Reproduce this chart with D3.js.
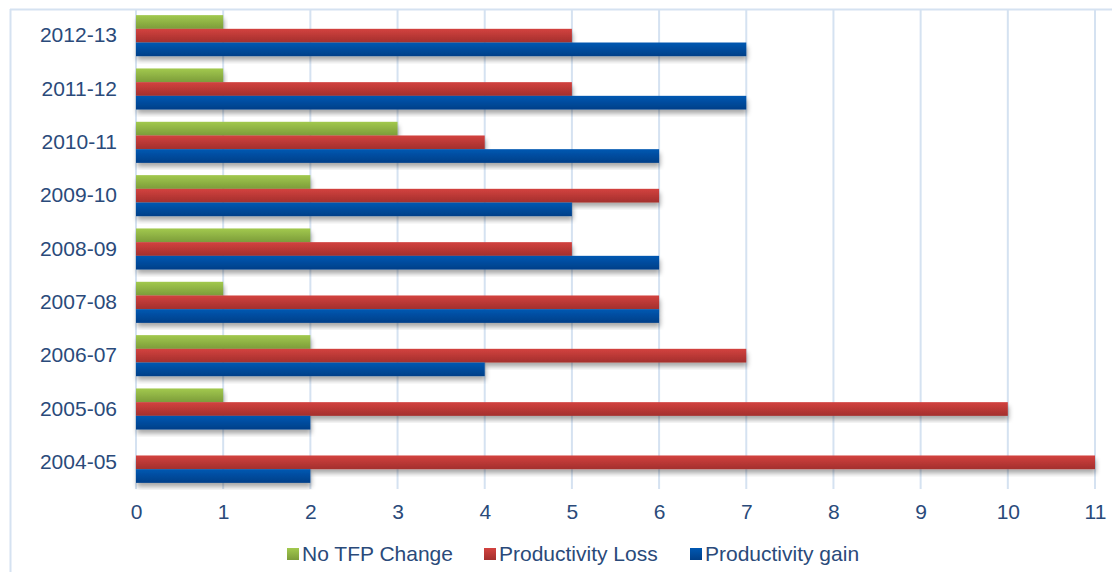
<!DOCTYPE html>
<html>
<head>
<meta charset="utf-8">
<script src="https://cdn.jsdelivr.net/npm/d3@7"></script>
<style>
  html, body { margin: 0; padding: 0; background: #fff; }
  svg { display: block; font-family: "Liberation Sans", Arial, sans-serif; }
</style>
</head>
<body>
<svg id="chart" width="1112" height="572"></svg>
<script>
// Years, listed top to bottom as drawn
const years = ["2012-13", "2011-12", "2010-11", "2009-10", "2008-09", "2007-08", "2006-07", "2005-06", "2004-05"];
const seriesNames = ["No TFP Change", "Productivity Loss", "Productivity gain"];
const noTfpChange = [1, 1, 3, 2, 2, 1, 2, 1, 0];
const productivityLoss = [5, 5, 4, 6, 5, 6, 7, 10, 11];
const productivityGain = [7, 7, 6, 5, 6, 6, 4, 2, 2];
const xTicks = [0, 1, 2, 3, 4, 5, 6, 7, 8, 9, 10, 11];

const seriesValues = [noTfpChange, productivityLoss, productivityGain];
const gradStops = [
  ["#a2c94e", "#7c9c3a"],
  ["#d3423f", "#a32f2d"],
  ["#0058b2", "#003f88"]
];
const textColor = "#2a4a7a";
const gridColor = "#d5e2f1";
const fontSize = 21;

const svg = d3.select("#chart");
const margin = { left: 136, right: 17, top: 9, bottom: 83 };
const W = 1112, H = 572;

const x = d3.scaleLinear().domain([0, 11]).range([margin.left, W - margin.right]);
const y = d3.scaleBand().domain(years).range([margin.top, H - margin.bottom]).paddingInner(0.23).paddingOuter(0.115);
const sub = d3.scaleBand().domain(d3.range(3)).range([0, y.bandwidth()]);

const defs = svg.append("defs");
gradStops.forEach((g, i) => {
  const lg = defs.append("linearGradient").attr("id", "g" + i)
    .attr("x1", 0).attr("y1", 0).attr("x2", 0).attr("y2", 1);
  lg.append("stop").attr("offset", "0%").attr("stop-color", g[0]);
  lg.append("stop").attr("offset", "100%").attr("stop-color", g[1]);
});
const f = defs.append("filter").attr("id", "shadow")
  .attr("x", "-5%").attr("y", "-30%").attr("width", "110%").attr("height", "180%");
f.append("feGaussianBlur").attr("in", "SourceAlpha").attr("stdDeviation", 2.5);
f.append("feOffset").attr("dx", 1).attr("dy", 4).attr("result", "off");
f.append("feComponentTransfer").append("feFuncA").attr("type", "linear").attr("slope", 0.35);
const fm = f.append("feMerge");
fm.append("feMergeNode");
fm.append("feMergeNode").attr("in", "SourceGraphic");

// Outer frame (top and left edges visible)
svg.append("line").attr("x1", 10).attr("x2", W).attr("y1", 9.5).attr("y2", 9.5)
  .attr("stroke", gridColor).attr("stroke-width", 2);
svg.append("line").attr("x1", 10.5).attr("x2", 10.5).attr("y1", 9).attr("y2", H)
  .attr("stroke", gridColor).attr("stroke-width", 2);

// Vertical gridlines
svg.append("g").selectAll("line").data(xTicks).join("line")
  .attr("x1", d => x(d)).attr("x2", d => x(d))
  .attr("y1", margin.top).attr("y2", H - margin.bottom)
  .attr("stroke", gridColor).attr("stroke-width", 2);

// Bars
const groups = svg.append("g").selectAll("g").data(years).join("g")
  .attr("transform", d => `translate(0,${y(d)})`);
groups.each(function (yr, yi) {
  const g = d3.select(this);
  seriesValues.forEach((vals, si) => {
    const v = vals[yi];
    if (v <= 0) return;
    g.append("rect")
      .attr("x", x(0))
      .attr("y", sub(si))
      .attr("width", x(v) - x(0))
      .attr("height", sub.bandwidth())
      .attr("fill", `url(#g${si})`)
      .attr("filter", "url(#shadow)");
  });
});

// X axis labels
const xAxis = d3.axisBottom(x).tickValues(xTicks).tickSize(0).tickPadding(15);
const xg = svg.append("g").attr("transform", `translate(0,${H - margin.bottom})`).call(xAxis);
xg.select(".domain").remove();
xg.attr("font-size", fontSize).attr("font-family", "Liberation Sans, Arial, sans-serif");
xg.selectAll("text").attr("fill", textColor);

// Y axis labels
const yAxis = d3.axisLeft(y).tickSize(0).tickPadding(19);
const yg = svg.append("g").attr("transform", `translate(${margin.left},0)`).call(yAxis);
yg.select(".domain").remove();
yg.attr("font-size", fontSize).attr("font-family", "Liberation Sans, Arial, sans-serif");
yg.selectAll("text").attr("fill", textColor);

// Legend
const legendX = [287, 484, 690];
const legend = svg.append("g").selectAll("g").data(seriesNames).join("g")
  .attr("transform", (d, i) => `translate(${legendX[i]},554)`);
legend.append("rect").attr("x", 0).attr("y", -6).attr("width", 12).attr("height", 12)
  .attr("fill", (d, i) => `url(#g${i})`);
legend.append("text").attr("x", 15).attr("y", 0).attr("dy", "0.35em")
  .attr("fill", textColor).attr("font-size", fontSize).text(d => d);
</script>
</body>
</html>
